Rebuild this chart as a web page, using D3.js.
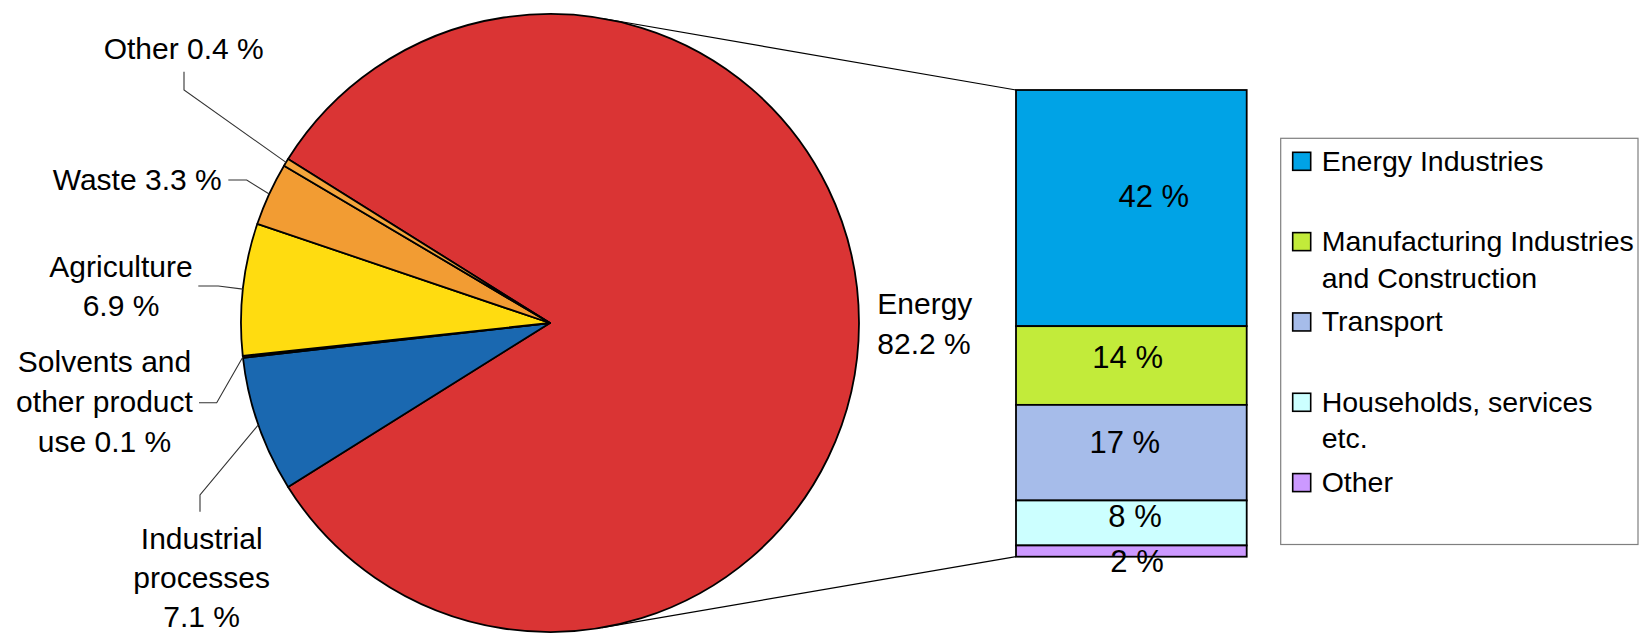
<!DOCTYPE html>
<html>
<head>
<meta charset="utf-8">
<script src="https://cdn.jsdelivr.net/npm/d3@7/dist/d3.min.js"></script>
<style>
  html, body { margin: 0; padding: 0; background: #fff; }
  svg { display: block; font-family: "Liberation Sans", Arial, sans-serif; }
</style>
</head>
<body>
<svg id="chart" width="1642" height="633"></svg>
<script>
// ---------- DATA ----------
const pieCategories = ["Energy", "Industrial processes", "Solvents and other product use", "Agriculture", "Waste", "Other"];
const pieValues     = [82.2, 7.1, 0.1, 6.9, 3.3, 0.4];
const pieColors     = ["#DA3434", "#1A68B0", "#6B3A8E", "#FFDC10", "#F29C33", "#F4A53C"];

const barCategories = ["Energy Industries", "Manufacturing Industries and Construction", "Transport", "Households, services etc.", "Other"];
const barValues     = [42, 14, 17, 8, 2];
const barColors     = ["#00A3E6", "#C2EB3A", "#A6BCEA", "#CCFFFF", "#CC99FF"];

// ---------- LAYOUT ----------
const W = 1642, H = 633;
const cx = 550, cy = 323, R = 309;
const barLeft = 1016, barRight = 1246.7, barTop = 90, barBottom = 556.7;

// label layout per pie slice: words per line, value on a new line?, anchor/position, leader points (text side)
const pieLabelLayout = [
  { words: [1], valueNewLine: true, anchor: "start", x: 877.3, y: 314, lh: 40, leader: null },
  { words: [1, 1], valueNewLine: true, anchor: "middle", x: 201.7, y: 549.3, lh: 39, leader: [[200, 511.7], [200, 495]] },
  { words: [2, 2, 1], valueNewLine: false, anchor: "middle", x: 104.5, y: 371.7, lh: 40, leader: [[199, 402.7], [216.7, 402.7]] },
  { words: [1], valueNewLine: true, anchor: "middle", x: 121, y: 276.7, lh: 39.3, leader: [[198.3, 286], [218.3, 286]] },
  { words: [1], valueNewLine: false, anchor: "end", x: 221.7, y: 190, lh: 40, leader: [[228.3, 180], [246.7, 180]] },
  { words: [1], valueNewLine: false, anchor: "middle", x: 183.7, y: 59.3, lh: 40, leader: [[184, 71.7], [184, 90]] }
];
const barLabelDx = [22.5, -3.7, -6.6, 3.7, 5.7];
const barLabelDy = [-1.3, 2.9, 0.1, 3.8, 20.7]; // baseline offset from segment centre
const legendLines = [[2], [2, 3], [1], [2, 1], [1]]; // words per line

const svg = d3.select("#chart");
const fmtPct = v => d3.format(".1f")(v) + " %";

// ---------- PIE ----------
const total = d3.sum(pieValues);
const startA = Math.PI / 2 - Math.PI * pieValues[0] / total;
const pie = d3.pie().sort(null).value(d => d.value)
  .startAngle(startA).endAngle(startA + 2 * Math.PI);
const pieData = pie(pieCategories.map((c, i) => ({ name: c, value: pieValues[i], color: pieColors[i], layout: pieLabelLayout[i] })));
const arc = d3.arc().innerRadius(0).outerRadius(R);
const edgeArc = d3.arc().innerRadius(R).outerRadius(R);

// connector lines (tangents from bar corners to the circle)
function tangent(px, py, upper) {
  const dx = px - cx, dy = py - cy, d = Math.hypot(dx, dy);
  const base = Math.atan2(dy, dx), a = Math.acos(R / d);
  const t = upper ? base - a : base + a;
  return [cx + R * Math.cos(t), cy + R * Math.sin(t)];
}
const conn = svg.append("g");
[[barLeft, barTop, true], [barLeft, barBottom, false]].forEach(([px, py, up]) => {
  const t = tangent(px, py, up);
  conn.append("line").attr("x1", t[0]).attr("y1", t[1]).attr("x2", px).attr("y2", py)
    .attr("stroke", "#000").attr("stroke-width", 1.2);
});

const gPie = svg.append("g").attr("transform", `translate(${cx},${cy})`);
gPie.selectAll("path").data(pieData).join("path")
  .attr("d", arc)
  .attr("fill", d => d.data.color)
  .attr("stroke", "#000")
  .attr("stroke-width", 1.8)
  .attr("stroke-linejoin", "round");

// leader lines
const gLead = svg.append("g");
pieData.forEach(d => {
  const L = d.data.layout;
  if (!L.leader) return;
  const c = edgeArc.centroid(d);
  const pts = L.leader.concat([[cx + c[0], cy + c[1]]]);
  gLead.append("path").attr("d", d3.line()(pts))
    .attr("fill", "none").attr("stroke", "#333").attr("stroke-width", 1.1);
});

// labels
const gLab = svg.append("g").attr("font-size", 30).attr("fill", "#000");
pieData.forEach(d => {
  const L = d.data.layout;
  const words = d.data.name.split(" ");
  const lines = [];
  let k = 0;
  L.words.forEach(n => { lines.push(words.slice(k, k + n).join(" ")); k += n; });
  if (L.valueNewLine) lines.push(fmtPct(d.data.value));
  else lines[lines.length - 1] += " " + fmtPct(d.data.value);
  const t = gLab.append("text").attr("text-anchor", L.anchor);
  lines.forEach((ln, i) => {
    t.append("tspan").attr("x", L.x).attr("y", L.y + i * L.lh).text(ln);
  });
});

// ---------- BAR ----------
const barTotal = d3.sum(barValues);
const y = d3.scaleLinear().domain([0, barTotal]).range([barTop, barBottom]);
const x = d3.scaleBand().domain(["Energy"]).range([barLeft, barRight]).padding(0);
let cum = 0;
const barData = barCategories.map((c, i) => {
  const o = { name: c, value: barValues[i], color: barColors[i], y0: cum, y1: cum + barValues[i], i };
  cum += barValues[i];
  return o;
});
const gBar = svg.append("g");
gBar.selectAll("rect").data(barData).join("rect")
  .attr("x", x("Energy")).attr("width", x.bandwidth())
  .attr("y", d => y(d.y0)).attr("height", d => y(d.y1) - y(d.y0))
  .attr("fill", d => d.color).attr("stroke", "#000").attr("stroke-width", 1.8);
gBar.selectAll("text").data(barData).join("text")
  .attr("font-size", 31).attr("text-anchor", "middle")
  .attr("x", d => x("Energy") + x.bandwidth() / 2 + barLabelDx[d.i])
  .attr("y", d => (y(d.y0) + y(d.y1)) / 2 + barLabelDy[d.i])
  .text(d => d.value + " %");

// ---------- LEGEND ----------
const gLeg = svg.append("g");
gLeg.append("rect").attr("x", 1280.7).attr("y", 138.3).attr("width", 357.3).attr("height", 406.2)
  .attr("fill", "#fff").attr("stroke", "#7f7f7f").attr("stroke-width", 1.2);
const ly = d3.scaleLinear().domain([0, barCategories.length - 1]).range([170.7, 492]);
barData.forEach((d, i) => {
  gLeg.append("rect").attr("x", 1292.7).attr("y", ly(i) - 18.4).attr("width", 18).attr("height", 18)
    .attr("fill", d.color).attr("stroke", "#000").attr("stroke-width", 1.6);
  const words = d.name.split(" ");
  const t = gLeg.append("text").attr("font-size", 28.5);
  let k = 0;
  legendLines[i].forEach((n, j) => {
    t.append("tspan").attr("x", 1321.7).attr("y", ly(i) + j * 36.7).text(words.slice(k, k + n).join(" "));
    k += n;
  });
});
</script>
</body>
</html>
